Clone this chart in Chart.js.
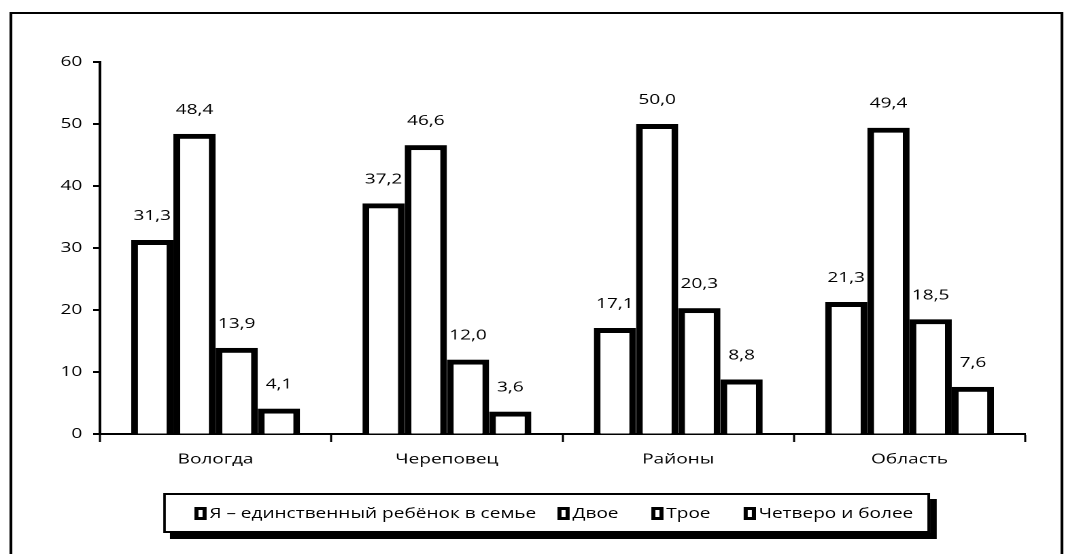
<!DOCTYPE html>
<html lang="ru">
<head>
<meta charset="UTF-8">
<title>Сколько детей в семье</title>
<script src="https://cdn.jsdelivr.net/npm/chart.js"></script>
<style>
  html, body { margin: 0; padding: 0; background: #fff; overflow: hidden; }
  /* the reference is stretched sideways, so the whole drawing is laid out narrower and widened */
  #wrap { position: absolute; left: 0; top: 0; width: 784px; height: 554px; transform: scaleX(1.3597); transform-origin: 0 0; font-family: 'Open Sans', sans-serif; }
  #frame { position: absolute; left: 7px; top: 12px; width: 771px; height: 600px; border: 2px solid #000; }
  #chart { position: absolute; left: 0; top: 0; }
  #legend { position: absolute; left: 120px; top: 493px; width: 560px; height: 36px; border: 2px solid #000; box-shadow: 5px 6px 0 #000; background: #fff; }
  .item { position: absolute; top: 0; height: 36px; font-size: 14px; color: #000; white-space: nowrap; }
  .key { position: absolute; left: 0; top: 12px; width: 3px; height: 7px; border: 3px solid #000; }
  .txt { position: absolute; left: 11px; top: 0; line-height: 36px; }
</style>
</head>
<body>
<div id="wrap">
  <div id="frame"></div>
  <canvas id="chart" width="784" height="554" style="width:784px;height:554px"></canvas>
  <div id="legend"></div>
</div>
<script>
const categories = ['Вологда', 'Череповец', 'Районы', 'Область'];
const seriesNames = ['Я – единственный ребёнок в семье', 'Двое', 'Трое', 'Четверо и более'];
const onlyChild = [31.3, 37.2, 17.1, 21.3];
const twoChildren = [48.4, 46.6, 50.0, 49.4];
const threeChildren = [13.9, 12.0, 20.3, 18.5];
const fourPlus = [4.1, 3.6, 8.8, 7.6];
const yTicks = [0, 10, 20, 30, 40, 50, 60];

const seriesValues = [onlyChild, twoChildren, threeChildren, fourPlus];
const legendLeft = [21, 288, 357, 425];
const font = { family: 'Open Sans', size: 14 };

// подписи значений над столбиками, с запятой
const valueLabels = {
  id: 'valueLabels',
  afterDatasetsDraw(chart) {
    const ctx = chart.ctx;
    ctx.save();
    ctx.font = '14px "Open Sans"';
    ctx.fillStyle = '#000';
    ctx.textAlign = 'center';
    ctx.textBaseline = 'middle';
    chart.data.datasets.forEach((ds, i) => {
      chart.getDatasetMeta(i).data.forEach((bar, j) => {
        ctx.fillText(ds.data[j].toFixed(1).replace('.', ','), bar.x, bar.y - 24);
      });
    });
    ctx.restore();
  }
};

new Chart(document.getElementById('chart'), {
  type: 'bar',
  data: {
    labels: categories,
    datasets: seriesNames.map((name, i) => ({
      label: name,
      data: seriesValues[i],
      backgroundColor: '#fff',
      borderColor: '#000',
      borderWidth: 5,
      barPercentage: 1,
      categoryPercentage: 0.73
    }))
  },
  options: {
    responsive: false,
    devicePixelRatio: 2,
    animation: false,
    events: [],
    layout: { padding: { left: 0, right: 30, top: 62, bottom: 0 } },
    plugins: { legend: { display: false }, tooltip: { enabled: false } },
    scales: {
      x: {
        grid: { drawOnChartArea: false, tickLength: 8, tickWidth: 1.5, tickColor: '#000', offset: true },
        border: { color: '#000', width: 2 },
        ticks: { color: '#000', font: font, padding: 9 },
        afterFit: s => { s.height = 120; }
      },
      y: {
        min: 0,
        max: 60,
        grid: { drawOnChartArea: false, tickLength: 5, tickWidth: 2, tickColor: '#000' },
        border: { color: '#000', width: 2 },
        ticks: { color: '#000', font: font, padding: 8 },
        afterBuildTicks: s => { s.ticks = yTicks.map(v => ({ value: v })); },
        afterFit: s => { s.width = 73.5; }
      }
    }
  },
  plugins: [valueLabels]
});

// легенда
const legend = document.getElementById('legend');
seriesNames.forEach((name, i) => {
  const item = document.createElement('div');
  item.className = 'item';
  item.style.left = legendLeft[i] + 'px';
  item.innerHTML = '<span class="key"></span><span class="txt"></span>';
  item.querySelector('.txt').textContent = name;
  legend.appendChild(item);
});
</script>
</body>
</html>
